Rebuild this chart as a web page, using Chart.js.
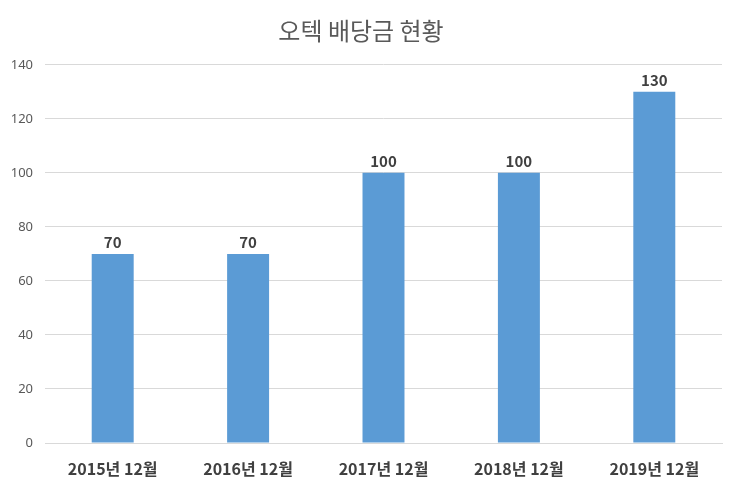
<!DOCTYPE html>
<html>
<head>
<meta charset="utf-8">
<script src="https://cdn.jsdelivr.net/npm/chart.js@4/dist/chart.umd.min.js"></script>
<style>
  html, body { margin: 0; padding: 0; background: #fff; }
  #wrap { width: 740px; height: 497px; }
</style>
</head>
<body>
<div id="wrap"><canvas id="grafico"></canvas></div>
<script>
// dados
const categorias = ["2015년 12월", "2016년 12월", "2017년 12월", "2018년 12월", "2019년 12월"];
const dividendos = [70, 70, 100, 100, 130];
const yTicks = [0, 20, 40, 60, 80, 100, 120, 140];

const fonteKR = "'Noto Sans CJK KR', 'Noto Sans', sans-serif";

// rótulos de valor acima das barras
const rotulos = {
  id: "rotulos",
  afterDatasetsDraw(chart) {
    const ctx = chart.ctx;
    const meta = chart.getDatasetMeta(0);
    ctx.save();
    ctx.font = "bold 15px " + fonteKR;
    ctx.fillStyle = "#404040";
    ctx.textAlign = "center";
    ctx.textBaseline = "bottom";
    meta.data.forEach((bar, i) => {
      ctx.fillText(String(dividendos[i]), bar.x, bar.y - 4);
    });
    ctx.restore();
  }
};

new Chart(document.getElementById("grafico"), {
  type: "bar",
  data: {
    labels: categorias,
    datasets: [{
      data: dividendos,
      backgroundColor: "#5B9BD5",
      barPercentage: 0.31,
      categoryPercentage: 1
    }]
  },
  options: {
    responsive: true,
    maintainAspectRatio: false,
    animation: false,
    layout: { padding: { left: 0, right: 18, top: 0, bottom: 0 } },
    plugins: {
      legend: { display: false },
      tooltip: { enabled: false },
      title: {
        display: true,
        text: "오텍 배당금 현황",
        color: "#595959",
        font: { family: fonteKR, size: 24, weight: "normal" },
        padding: { top: 16, bottom: 20 }
      }
    },
    scales: {
      x: {
        grid: { display: false, drawTicks: false },
        border: { display: true, color: "#d9d9d9" },
        ticks: {
          color: "#404040",
          padding: 16,
          font: { family: fonteKR, size: 16, weight: "bold" }
        },
        afterFit: (axis) => { axis.height = 54; }
      },
      y: {
        min: 0,
        max: 140,
        afterBuildTicks: (axis) => { axis.ticks = yTicks.map(v => ({ value: v })); },
        grid: { color: "#d9d9d9", drawTicks: false },
        border: { display: false },
        ticks: {
          color: "#595959",
          padding: 12,
          font: { family: "'Noto Sans', sans-serif", size: 13 }
        },
        afterFit: (axis) => { axis.width = 45; }
      }
    }
  },
  plugins: [rotulos]
});
</script>
</body>
</html>
